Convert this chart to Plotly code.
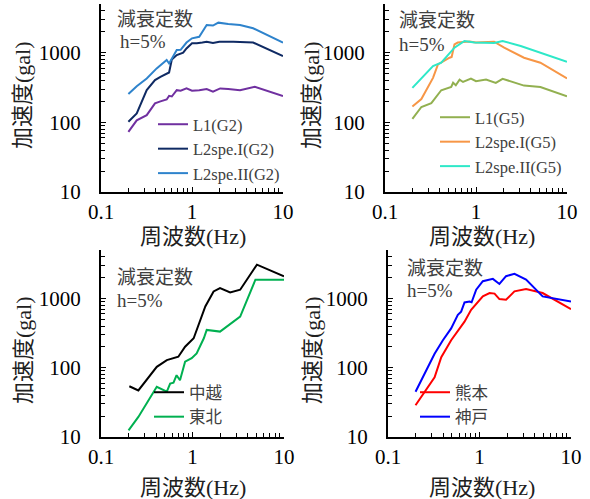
import plotly.graph_objects as go

# ---------------- data ----------------
# Panel 1 (G2)
f_l1_g2 = [0.2, 0.247, 0.318, 0.392, 0.45, 0.527, 0.56, 0.6, 0.68, 0.75, 0.87, 1.0, 1.2, 1.45, 1.7, 2.04, 2.5, 3.37, 4.9, 10]
a_l1_g2 = [73, 107, 127, 187, 200, 213, 240, 235, 290, 285, 307, 284, 290, 300, 275, 307, 300, 290, 324, 238]
f_l2i_g2 = [0.2, 0.247, 0.318, 0.392, 0.45, 0.527, 0.56, 0.6, 0.68, 0.8, 0.87, 1.0, 1.13, 1.3, 1.45, 1.7, 2.0, 2.85, 4.7, 10]
a_l2i_g2 = [102, 134, 290, 404, 450, 504, 520, 800, 925, 1000, 1150, 1362, 1362, 1400, 1440, 1380, 1440, 1440, 1400, 895]
f_l2ii_g2 = [0.2, 0.247, 0.318, 0.409, 0.527, 0.56, 0.68, 0.75, 0.87, 1.0, 1.2, 1.45, 1.7, 1.95, 2.5, 3.37, 4.7, 10]
a_l2ii_g2 = [255, 330, 427, 595, 784, 700, 1090, 1100, 1400, 1608, 1690, 2500, 2450, 2700, 2580, 2500, 2240, 1393]

# Panel 2 (G5)
f_l1_g5 = [0.2, 0.251, 0.323, 0.415, 0.534, 0.56, 0.6, 0.66, 0.72, 0.88, 1.0, 1.29, 1.65, 1.96, 3.37, 5.1, 10]
a_l1_g5 = [112, 166, 189, 289, 322, 370, 340, 411, 380, 426, 389, 411, 368, 422, 337, 322, 236]
f_l2i_g5 = [0.2, 0.251, 0.337, 0.382, 0.512, 0.54, 0.58, 0.63, 0.85, 1.0, 1.58, 2.04, 3.37, 5.1, 10]
a_l2i_g5 = [169, 216, 435, 678, 847, 870, 1319, 1400, 1442, 1400, 1440, 1180, 847, 717, 426]
f_l2ii_g5 = [0.2, 0.337, 0.415, 0.58, 0.746, 0.96, 1.58, 1.96, 3.1, 5.1, 10]
a_l2ii_g5 = [312, 641, 717, 1180, 1475, 1400, 1380, 1475, 1250, 1000, 741]

# Panel 3 (中越 / 東北)
f_chuetsu = [0.204, 0.256, 0.407, 0.524, 0.70, 0.83, 1.03, 1.38, 1.70, 2.0, 2.58, 3.32, 5.06, 10]
a_chuetsu = [54, 47, 103, 129, 144, 201, 266, 766, 1263, 1412, 1222, 1336, 3074, 2083]
f_tohoku = [0.2, 0.256, 0.407, 0.524, 0.57, 0.62, 0.67, 0.73, 0.83, 0.98, 1.11, 1.33, 1.43, 2.0, 3.32, 4.87, 10]
a_tohoku = [12.5, 19.5, 53, 45, 59, 61, 78, 66, 122, 137, 161, 266, 351, 332, 548, 1864, 1864]

# Panel 4 (熊本 / 神戸)
f_kumamoto = [0.2, 0.323, 0.382, 0.49, 0.686, 0.81, 1.087, 1.29, 1.46, 1.65, 1.95, 2.41, 3.23, 4.9, 10]
a_kumamoto = [28.7, 72.6, 142, 249, 462, 684, 1069, 1196, 1175, 978, 955, 1265, 1368, 1196, 699]
f_kobe = [0.2, 0.323, 0.398, 0.49, 0.58, 0.63, 0.686, 0.777, 0.82, 0.92, 1.087, 1.40, 1.65, 1.95, 2.41, 3.23, 4.9, 10]
a_kobe = [45, 159, 249, 369, 578, 646, 874, 904, 880, 1340, 1771, 1916, 1618, 2095, 2265, 1872, 1069, 904]

x_tickvals = [0.1, 1, 10]
x_ticktext = ["0.1", "1", "10"]
y_tickvals = [10, 100, 1000]
y_ticktext = ["10", "100", "1000"]

xlabel = "周波数<span style='font-family:Liberation Serif'>(Hz)</span>"
ylabel = "加速度<span style='font-family:Liberation Serif'>(gal)</span>"
note1 = "減衰定数"
note2 = "h=5%"

# ---------------- figure ----------------
W, H = 590, 499
SERIF = "Liberation Serif"
MIXED = "Liberation Serif, Noto Sans CJK JP"
CJK = "Noto Sans CJK JP"

def px(x):
    return x / W

def py(y):
    return 1 - y / H

fig = go.Figure()

panels = [
    dict(xd=(101, 283), yd=(4, 192),
         series=[(f_l1_g2, a_l1_g2, "L1(G2)", "#7030A0"),
                 (f_l2i_g2, a_l2i_g2, "L2spe.I(G2)", "#0F2A63"),
                 (f_l2ii_g2, a_l2ii_g2, "L2spe.II(G2)", "#2E83CC")],
         leg=(153, 107), ylab=(23, 95), xlab=(193, 237), n1=(115, 17), n2=(118, 42)),
    dict(xd=(385, 567), yd=(4, 192),
         series=[(f_l1_g5, a_l1_g5, "L1(G5)", "#92B050"),
                 (f_l2i_g5, a_l2i_g5, "L2spe.I(G5)", "#F79646"),
                 (f_l2ii_g5, a_l2ii_g5, "L2spe.II(G5)", "#2EE8C8")],
         leg=(435, 100), ylab=(312, 95), xlab=(482, 237), n1=(397, 18), n2=(397, 45)),
    dict(xd=(101, 284), yd=(250, 437),
         series=[(f_chuetsu, a_chuetsu, "中越", "#000000"),
                 (f_tohoku, a_tohoku, "東北", "#00B050")],
         leg=(149, 375), ylab=(23, 350), xlab=(193, 487), n1=(115, 275), n2=(115, 300)),
    dict(xd=(388, 571), yd=(250, 437),
         series=[(f_kumamoto, a_kumamoto, "熊本", "#FF0000"),
                 (f_kobe, a_kobe, "神戸", "#0000FF")],
         leg=(415, 375), ylab=(312, 350), xlab=(482, 487), n1=(405, 266), n2=(405, 290)),
]

annotations = []
layout = {}
for i, p in enumerate(panels, start=1):
    xa = "x" if i == 1 else f"x{i}"
    ya = "y" if i == 1 else f"y{i}"
    lg = "legend" if i == 1 else f"legend{i}"
    for fx, ay, name, color in p["series"]:
        fig.add_trace(go.Scatter(x=fx, y=ay, name=name, mode="lines",
                                 line=dict(color=color, width=2),
                                 xaxis=xa, yaxis=ya, legend=lg))
    axis_common = dict(type="log", showline=True, linecolor="black", linewidth=2,
                       ticks="inside", ticklen=5, tickwidth=1, tickcolor="black",
                       showgrid=False, zeroline=False, mirror=False, automargin=False,
                       tickfont=dict(family=SERIF, size=21, color="black"),
                       minor=dict(ticks="inside", ticklen=4, tickwidth=1,
                                  tickcolor="black", dtick="D1", showgrid=False))
    layout["xaxis" if i == 1 else f"xaxis{i}"] = dict(
        axis_common, domain=[px(p["xd"][0]), px(p["xd"][1])], range=[-1, 1],
        tickvals=x_tickvals, ticktext=x_ticktext, anchor=ya, ticklabelstandoff=0)
    layout["yaxis" if i == 1 else f"yaxis{i}"] = dict(
        axis_common, domain=[py(p["yd"][1]), py(p["yd"][0])], range=[1, 3.699],
        tickvals=y_tickvals, ticktext=y_ticktext, anchor=xa, ticklabelstandoff=14)
    layout[lg] = dict(x=px(p["leg"][0]), y=py(p["leg"][1]), xanchor="left", yanchor="top",
                      bgcolor="rgba(0,0,0,0)", borderwidth=0,
                      font=dict(family=MIXED, size=16.5, color="#404040"),
                      tracegroupgap=0)
    annotations += [
        dict(text=ylabel, x=px(p["ylab"][0]), y=py(p["ylab"][1]), xref="paper", yref="paper",
             textangle=-90, showarrow=False, xanchor="center", yanchor="middle",
             font=dict(family=MIXED, size=22, color="#202020")),
        dict(text=xlabel, x=px(p["xlab"][0]), y=py(p["xlab"][1]), xref="paper", yref="paper",
             showarrow=False, xanchor="center", yanchor="middle",
             font=dict(family=MIXED, size=22, color="#202020")),
        dict(text=note1, x=px(p["n1"][0]), y=py(p["n1"][1]), xref="paper", yref="paper",
             showarrow=False, xanchor="left", yanchor="middle",
             font=dict(family=CJK, size=19, color="#404040")),
        dict(text=note2, x=px(p["n2"][0]), y=py(p["n2"][1]), xref="paper", yref="paper",
             showarrow=False, xanchor="left", yanchor="middle",
             font=dict(family=SERIF, size=19, color="#404040")),
    ]

fig.update_layout(width=W, height=H, margin=dict(l=0, r=0, t=0, b=0, autoexpand=False),
                  paper_bgcolor="white", plot_bgcolor="white",
                  annotations=annotations, showlegend=True, **layout)

fig.write_html("out.html", config={"displayModeBar": False},
               post_script="document.body.style.margin='0';")
